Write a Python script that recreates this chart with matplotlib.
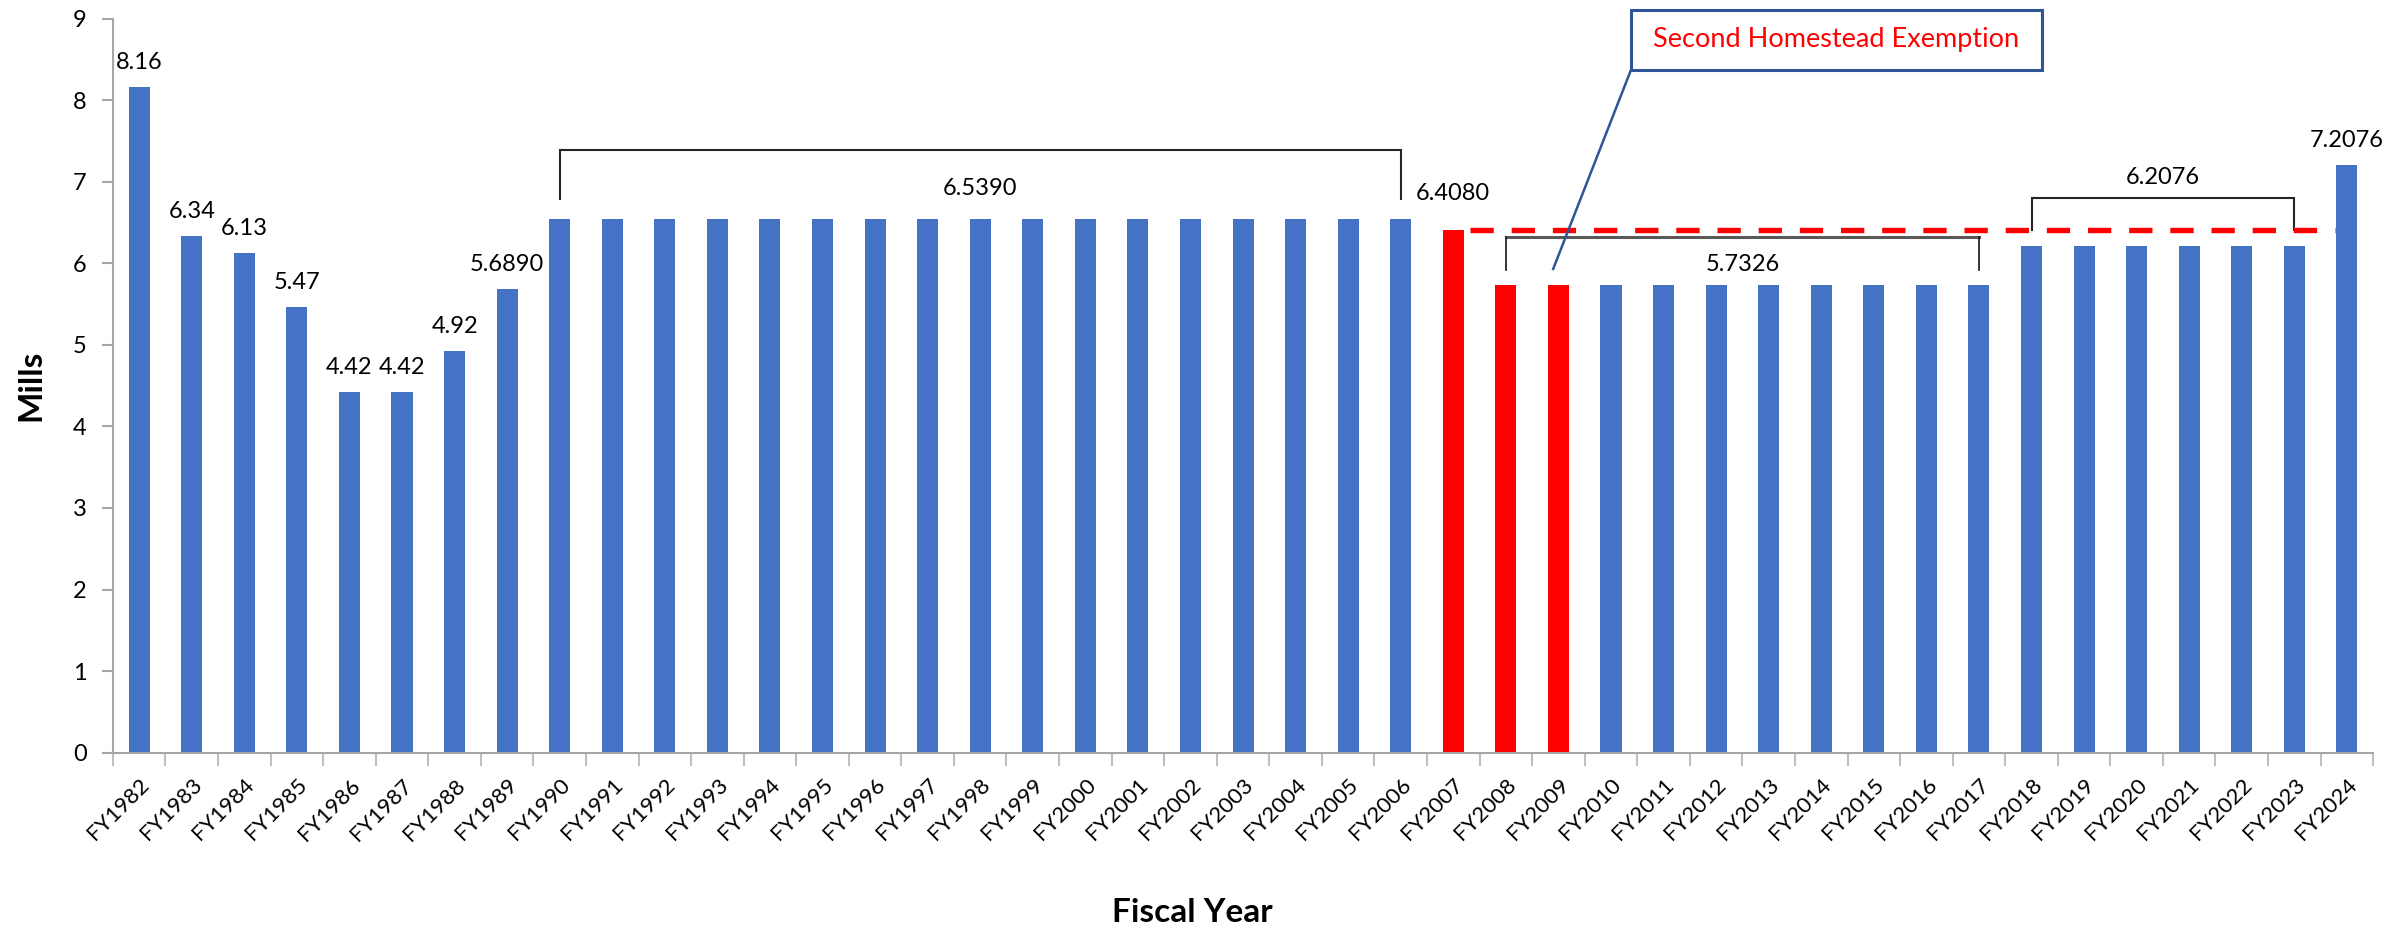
import numpy as np
import matplotlib
matplotlib.use("Agg")
import matplotlib.pyplot as plt
from matplotlib.patches import Rectangle
from matplotlib.transforms import ScaledTranslation

plt.rcParams['font.family'] = ['Lato', 'DejaVu Sans']

# data
years = [f"FY{y}" for y in range(1982, 2025)]
mills = ([8.16, 6.34, 6.13, 5.47, 4.42, 4.42, 4.92, 5.689]
         + [6.539] * 17
         + [6.408]
         + [5.7326] * 10
         + [6.2076] * 6
         + [7.2076])
red_years = ["FY2007", "FY2008", "FY2009"]
single_labels = {"FY1982": "8.16", "FY1983": "6.34", "FY1984": "6.13", "FY1985": "5.47",
                 "FY1986": "4.42", "FY1987": "4.42", "FY1988": "4.92", "FY1989": "5.6890",
                 "FY2024": "7.2076"}
brackets = [("FY1990", "FY2006", "6.5390"),
            ("FY2008", "FY2017", "5.7326"),
            ("FY2018", "FY2023", "6.2076")]
ref_rate = 6.408

BLUE = "#4472C4"
RED = "#FF0000"
BOXBLUE = "#2F5597"

fig = plt.figure(figsize=(24.02, 9.27), dpi=100)
ax = fig.add_axes([0.047, 0.188, 0.941, 0.792])

x = np.arange(len(years))
colors = [RED if y in red_years else BLUE for y in years]
ax.bar(x, mills, width=0.4, color=colors, zorder=2)

ax.set_xlim(-0.5, len(years) - 0.5)
ax.set_ylim(0, 9)
ax.set_yticks(range(10))
ax.set_xticks(x)
ax.set_xticklabels(years, rotation=45, ha='right', rotation_mode='anchor', fontsize=16)
shift = ScaledTranslation(0.02, 0, fig.dpi_scale_trans)
for lab in ax.get_xticklabels():
    lab.set_transform(lab.get_transform() + shift)
ax.set_xticks(np.arange(-0.5, len(years), 1), minor=True)
ax.tick_params(axis='x', which='major', length=0, pad=16)
ax.tick_params(axis='x', which='minor', length=9, color='#BFBFBF', width=1.5)
ax.tick_params(axis='y', labelsize=17, length=8, color='#A6A6A6', width=1.5, pad=11)
for s in ['top', 'right']:
    ax.spines[s].set_visible(False)
for s in ['left', 'bottom']:
    ax.spines[s].set_color('#A6A6A6')
    ax.spines[s].set_linewidth(1.5)

fig.text(31 / 2402, 1 - 385 / 927, "Mills", rotation=90, ha='center', va='center',
         fontsize=24, fontweight='bold')
fig.text(1192 / 2402, 1 - 922 / 927, "Fiscal Year", ha='center', va='baseline',
         fontsize=24, fontweight='bold')

# single value labels
for yr, lab in single_labels.items():
    i = years.index(yr)
    ax.annotate(lab, (i, mills[i]), xytext=(0, 10), textcoords='offset points',
                ha='center', va='bottom', fontsize=17)
i07 = years.index("FY2007")
ax.text(i07, 6.86, "6.4080", ha='center', va='center', fontsize=17)

# group brackets: (top of bracket, end of legs, label y)
b_specs = [(7.39, 6.79, 6.92), (6.32, 5.92, 5.98), (6.80, 6.41, 7.05)]
for (a, b, lab), (top, leg, ty) in zip(brackets, b_specs):
    i0, i1 = years.index(a), years.index(b)
    if lab == "5.7326":
        ax.plot([i0, i1], [top, top], color='#595959', lw=2.2, zorder=3)
        ax.plot([i0, i0], [top, leg], color='#262626', lw=1.3, zorder=3)
        ax.plot([i1, i1], [top, leg], color='#262626', lw=1.3, zorder=3)
    else:
        ax.plot([i0, i0, i1, i1], [leg, top, top, leg], color='#262626', lw=1.5,
                zorder=3, solid_joinstyle='miter')
    ax.text((i0 + i1) / 2, ty, lab, ha='center', va='center', fontsize=17)

# FY2007 rate reference line
ax.plot([i07 + 0.32, len(years) - 1 - 0.22], [ref_rate, ref_rate], color=RED, lw=3.9,
        dashes=(4.3, 3.3), zorder=4)

# callout
box = Rectangle((28.38, 8.37), 7.82, 0.74, facecolor='white', edgecolor=BOXBLUE, lw=2.2,
                zorder=5, clip_on=False)
ax.add_patch(box)
ax.text(28.38 + 3.91, 8.74, "Second Homestead Exemption", color=RED, ha='center', va='center',
        fontsize=19.5, zorder=6)
ax.plot([28.38, 26.9], [8.37, 5.93], color=BOXBLUE, lw=1.8, zorder=4)

fig.savefig("out.png", dpi=100)
